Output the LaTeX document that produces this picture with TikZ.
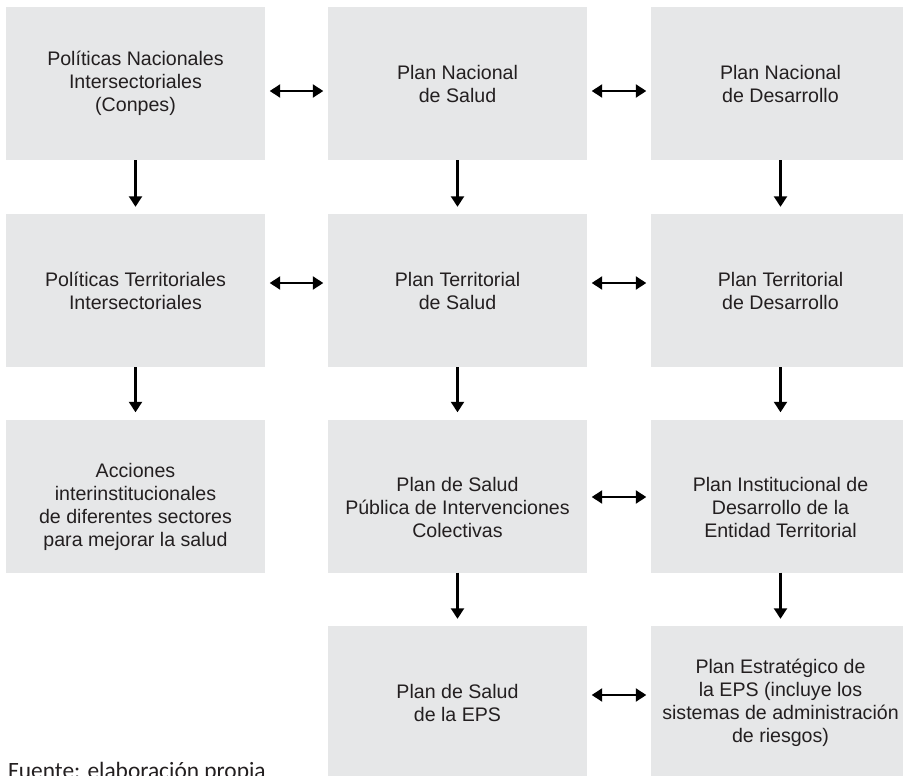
\documentclass[tikz,border=0pt]{standalone}
\usepackage{fontspec}
\setmainfont{Liberation Sans}
\newfontfamily\notefont{Carlito}
\usetikzlibrary{arrows.meta}
\definecolor{boxgray}{RGB}{230,231,232}
\definecolor{ink}{RGB}{35,31,32}

\begin{document}
\begin{tikzpicture}[x=1pt,y=-1pt,
  box/.style={fill=boxgray, minimum width=259pt, minimum height=153pt,
    inner sep=0pt, align=center, text=ink,
    font=\fontsize{19.6}{23}\selectfont},
  lowtext/.style={label={[align=center, text=ink, inner sep=0pt,
    font=\fontsize{19.6}{23}\selectfont, yshift=-11pt]center:#1}},
  tip/.tip={Triangle[length=10.5pt,width=13pt]},
  flow/.style={-tip, line width=2.2pt, shorten >=7pt},
  link/.style={tip-tip, line width=2.2pt, shorten <=4.5pt, shorten >=4.5pt},
]
\clip (0,0) rectangle (903,776);

% first row: national level
\node[box] (r1c1) at (135.5,83.5) {Políticas Nacionales\\Intersectoriales\\(Conpes)};
\node[box] (r1c2) at (457.5,83.5) {Plan Nacional\\de Salud};
\node[box] (r1c3) at (780.5,83.5) {Plan Nacional\\de Desarrollo};

% second row: territorial level
\node[box] (r2c1) at (135.5,290.5) {Políticas Territoriales\\Intersectoriales};
\node[box] (r2c2) at (457.5,290.5) {Plan Territorial\\de Salud};
\node[box] (r2c3) at (780.5,290.5) {Plan Territorial\\de Desarrollo};

% third row: actions and institutional plans
\node[box, lowtext={Acciones\\interinstitucionales\\de diferentes sectores\\para mejorar la salud}] (r3c1) at (135.5,496) {};
\node[box, lowtext={Plan de Salud\\Pública de Intervenciones\\Colectivas}] (r3c2) at (457.5,496) {};
\node[box, lowtext={Plan Institucional de\\Desarrollo de la\\Entidad Territorial}] (r3c3) at (780.5,496) {};

% fourth row: EPS plans
\node[box] (r4c2) at (457.5,702.5) {Plan de Salud\\de la EPS};
\node[box] (r4c3) at (780.5,702.5) {Plan Estratégico de\\la EPS (incluye los\\sistemas de administración\\de riesgos)};

% downward flow
\draw[flow] (r1c1.south) -- (r2c1.north);
\draw[flow] (r2c1.south) -- (r3c1.north);
\draw[flow] (r1c2.south) -- (r2c2.north);
\draw[flow] (r2c2.south) -- (r3c2.north);
\draw[flow] (r3c2.south) -- (r4c2.north);
\draw[flow] (r1c3.south) -- (r2c3.north);
\draw[flow] (r2c3.south) -- (r3c3.north);
\draw[flow] (r3c3.south) -- (r4c3.north);

% two-way links between columns
\draw[link] ([yshift=-7.5pt]r1c1.east) -- ([yshift=-7.5pt]r1c2.west);
\draw[link] ([yshift=-7.5pt]r1c2.east) -- ([yshift=-7.5pt]r1c3.west);
\draw[link] ([yshift=7.5pt]r2c1.east) -- ([yshift=7.5pt]r2c2.west);
\draw[link] ([yshift=7.5pt]r2c2.east) -- ([yshift=7.5pt]r2c3.west);
\draw[link] ([yshift=-1pt]r3c2.east) -- ([yshift=-1pt]r3c3.west);
\draw[link] ([yshift=7.5pt]r4c2.east) -- ([yshift=7.5pt]r4c3.west);

% source note, running off the lower edge
\node[anchor=base west, inner sep=0pt, text=ink,
  font=\notefont\fontsize{23.4}{28}\selectfont] (fuente) at (8,778)
  {Fuente: elaboración propia};
\end{tikzpicture}
\end{document}
